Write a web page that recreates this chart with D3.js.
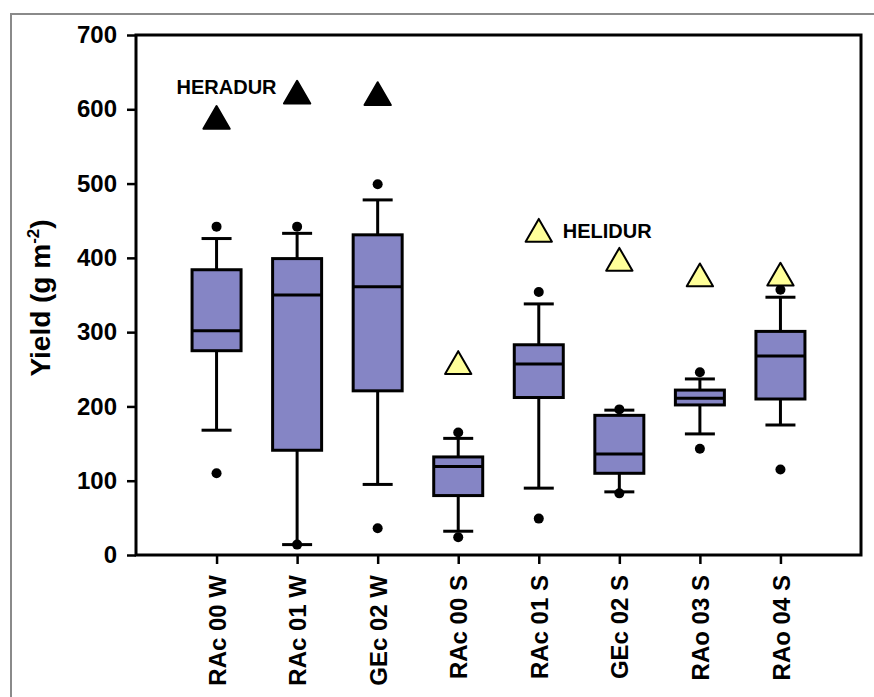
<!DOCTYPE html>
<html>
<head>
<meta charset="utf-8">
<script src="https://cdn.jsdelivr.net/npm/d3@7"></script>
<style>
  body { margin: 0; background: #fff; }
  text { font-family: "Liberation Sans", Arial, sans-serif; font-weight: bold; }
</style>
</head>
<body>
<div id="chart"></div>
<script>
// yield data
const categories = ["RAc 00 W", "RAc 01 W", "GEc 02 W", "RAc 00 S", "RAc 01 S", "GEc 02 S", "RAo 03 S", "RAo 04 S"];
const whiskerLow  = [168, 14, 95, 32, 90, 85, 163, 175];
const q1          = [275, 141, 221, 80, 212, 110, 202, 210];
const median      = [302, 350, 361, 119, 257, 136, 211, 268];
const q3          = [384, 399, 431, 132, 283, 188, 222, 301];
const whiskerHigh = [426, 433, 478, 157, 338, 195, 237, 347];
const outlierLow  = [110, 14, 36, 24, 49, 83, 143, 115];
const outlierHigh = [442, 442, 499, 165, 354, 196, 246, 357];

// reference cultivars
const heradurCats = ["RAc 00 W", "RAc 01 W", "GEc 02 W"];
const heradur     = [588, 622, 620];
const helidurCats = ["RAc 00 S", "RAc 01 S", "GEc 02 S", "RAo 03 S", "RAo 04 S"];
const helidur     = [258, 436, 397, 376, 377];

const yTicks = [0, 100, 200, 300, 400, 500, 600, 700];

const W = 874, H = 697;
const margin = { top: 35, right: 13, bottom: 142, left: 136 };
const width = W - margin.left - margin.right;
const height = H - margin.top - margin.bottom;

const svg = d3.select("#chart").append("svg")
    .attr("width", W)
    .attr("height", H);

// grey outer frame
svg.append("path")
    .attr("d", `M11,${H} L11,14 L${W},14`)
    .attr("fill", "none")
    .attr("stroke", "#8a8a8a")
    .attr("stroke-width", 2);

const g = svg.append("g")
    .attr("transform", "translate(" + margin.left + "," + margin.top + ")");

const x = d3.scalePoint()
    .domain(categories)
    .range([0, width])
    .padding(1);

const y = d3.scaleLinear()
    .domain([0, 700])
    .range([height, 0]);

const boxW = 49, capW = 30;

// plot frame
g.append("rect")
    .attr("width", width)
    .attr("height", height)
    .attr("fill", "none")
    .attr("stroke", "#000")
    .attr("stroke-width", 3);

// axes
const yAxis = g.append("g")
    .call(d3.axisLeft(y).tickValues(yTicks).tickSize(9).tickPadding(10));
const xAxis = g.append("g")
    .attr("transform", "translate(0," + height + ")")
    .call(d3.axisBottom(x).tickSize(9).tickPadding(8));

[yAxis, xAxis].forEach(a => {
    a.select(".domain").remove();
    a.selectAll(".tick line").attr("stroke", "#000").attr("stroke-width", 2.5);
    a.selectAll("text").attr("fill", "#000");
});
yAxis.selectAll("text").style("font-size", "24px");

xAxis.selectAll(".tick text")
    .style("font-size", "24px")
    .attr("transform", "rotate(-90)")
    .attr("text-anchor", "end")
    .attr("x", -20)
    .attr("y", 0)
    .attr("dy", "0.36em");

g.append("text")
    .attr("transform", "rotate(-90)")
    .attr("x", -height / 2 - 3)
    .attr("y", -86)
    .attr("text-anchor", "middle")
    .style("font-size", "28px")
    .html('Yield (g m<tspan dy="-11" style="font-size:17px">-2</tspan><tspan dy="11">)</tspan>');

// boxes
const boxes = g.selectAll(".box")
    .data(categories)
    .join("g")
    .attr("class", "box")
    .attr("transform", d => "translate(" + x(d) + ",0)");

boxes.append("line")
    .attr("y1", (d, i) => y(whiskerLow[i]))
    .attr("y2", (d, i) => y(whiskerHigh[i]))
    .attr("stroke", "#000").attr("stroke-width", 3);

boxes.selectAll(".cap")
    .data((d, i) => [whiskerLow[i], whiskerHigh[i]])
    .join("line")
    .attr("x1", -capW / 2).attr("x2", capW / 2)
    .attr("y1", v => y(v)).attr("y2", v => y(v))
    .attr("stroke", "#000").attr("stroke-width", 3);

boxes.append("rect")
    .attr("x", -boxW / 2)
    .attr("width", boxW)
    .attr("y", (d, i) => y(q3[i]))
    .attr("height", (d, i) => y(q1[i]) - y(q3[i]))
    .attr("fill", "#8585c5")
    .attr("stroke", "#000").attr("stroke-width", 3);

boxes.append("line")
    .attr("x1", -boxW / 2).attr("x2", boxW / 2)
    .attr("y1", (d, i) => y(median[i]))
    .attr("y2", (d, i) => y(median[i]))
    .attr("stroke", "#000").attr("stroke-width", 3);

boxes.selectAll(".out")
    .data((d, i) => [outlierLow[i], outlierHigh[i]])
    .join("circle")
    .attr("r", 5)
    .attr("cy", v => y(v))
    .attr("fill", "#000");

// cultivar triangles
const tri = d3.symbol().type(d3.symbolTriangle).size(300);

g.selectAll(".heradur")
    .data(heradurCats)
    .join("path")
    .attr("d", tri)
    .attr("transform", (d, i) => "translate(" + x(d) + "," + (y(heradur[i]) + 3) + ")")
    .attr("fill", "#000")
    .attr("stroke", "#000").attr("stroke-width", 2).attr("stroke-linejoin", "round");

g.selectAll(".helidur")
    .data(helidurCats)
    .join("path")
    .attr("d", tri)
    .attr("transform", (d, i) => "translate(" + x(d) + "," + (y(helidur[i]) + 3) + ")")
    .attr("fill", "#ffff99")
    .attr("stroke", "#000").attr("stroke-width", 2).attr("stroke-linejoin", "round");

g.append("text")
    .attr("x", x("RAc 00 W") - 40)
    .attr("y", y(heradur[1]) + 1)
    .style("font-size", "20px")
    .text("HERADUR");

g.append("text")
    .attr("x", x("RAc 01 S") + 24)
    .attr("y", y(helidur[1]) + 7)
    .style("font-size", "20px")
    .text("HELIDUR");
</script>
</body>
</html>
